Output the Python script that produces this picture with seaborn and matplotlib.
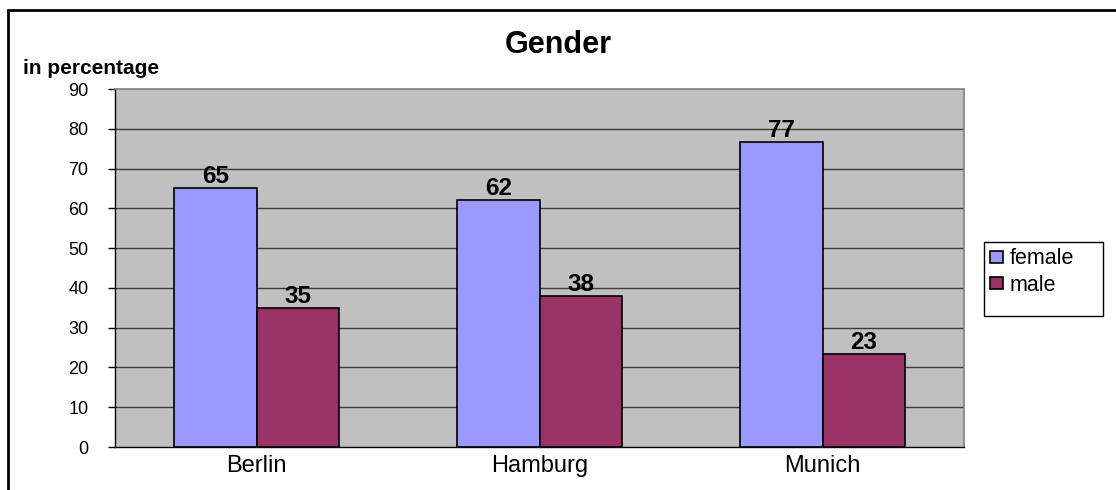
import matplotlib
matplotlib.use("Agg")
import matplotlib.pyplot as plt
import seaborn as sns
import pandas as pd
from matplotlib.patches import Rectangle

cities = ["Berlin", "Hamburg", "Munich"]
genders = ["female", "male"]
female = [65, 62, 76.7]
male = [35, 38, 23.3]
yticks = [0, 10, 20, 30, 40, 50, 60, 70, 80, 90]
colors = ["#9999FF", "#993366"]

df = pd.DataFrame({
    "city": cities * 2,
    "gender": ["female"] * 3 + ["male"] * 3,
    "value": female + male,
})

sns.set_theme(style="white")
plt.rcParams["font.family"] = ["Liberation Sans", "DejaVu Sans"]
plt.rcParams["text.color"] = "black"
plt.rcParams["xtick.color"] = "black"
plt.rcParams["ytick.color"] = "black"
plt.rcParams["axes.labelcolor"] = "black"

fig = plt.figure(figsize=(11.16, 4.9), dpi=100)
ax = fig.add_axes([115 / 1116, 1 - 447 / 490, (964 - 115) / 1116, (447 - 89) / 490])
ax.set_facecolor("#C0C0C0")

sns.barplot(data=df, x="city", y="value", hue="gender", hue_order=genders,
            palette=colors, width=0.58, edgecolor="black", linewidth=1.2,
            saturation=1, ax=ax, zorder=3, legend=True)

ax.set_ylim(0, 90)
ax.set_xlim(-0.5, 2.5)
ax.set_yticks(yticks)
ax.set_yticklabels([str(v) for v in yticks], fontsize=13)
for v in yticks[1:-1]:
    ax.axhline(v, color="#3a3a3a", lw=1, zorder=1)

ax.set_xlabel("")
ax.set_ylabel("")
ax.tick_params(axis="x", which="major", length=0, labelsize=17, pad=6)
ax.set_xticks([-0.5, 0.5, 1.5, 2.5], minor=True)
ax.tick_params(axis="x", which="minor", length=5, width=1, color="black", direction="out")
ax.tick_params(axis="y", length=5, width=1, color="black", direction="out", left=True, pad=14)

for side in ["top", "right"]:
    ax.spines[side].set_color("#808080")
    ax.spines[side].set_linewidth(1.2)
ax.spines["left"].set_color("black")
ax.spines["bottom"].set_color("black")
ax.spines["left"].set_linewidth(1)
ax.spines["bottom"].set_linewidth(1)

for cont, vals in zip(ax.containers, [female, male]):
    ax.bar_label(cont, labels=[f"{round(v)}" for v in vals], fontsize=17.5,
                 fontweight="bold", padding=0, color="black")

handles, labels = ax.get_legend_handles_labels()
ax.legend(handles, labels, loc="upper left",
          bbox_to_anchor=(986 / 1116, 1 - 244 / 490), bbox_transform=fig.transFigure,
          frameon=False, fontsize=15.5,
          handlelength=0.6, handleheight=0.5, handletextpad=0.3,
          borderpad=0.2, labelspacing=0.25, borderaxespad=0)
leg = ax.get_legend()
for t in leg.get_texts():
    t.set_color("black")

fig.patches.append(Rectangle((984 / 1116, 1 - 316 / 490), (1103 - 984) / 1116, (316 - 242) / 490,
                             transform=fig.transFigure, fill=False,
                             edgecolor="black", linewidth=1, figure=fig))

fig.text(0.5, 1 - 45 / 490, "Gender", ha="center", va="center",
         fontsize=22, fontweight="bold")
fig.text(23 / 1116, 1 - 68 / 490, "in percentage", ha="left", va="center",
         fontsize=15, fontweight="bold")

fig.patches.append(Rectangle((8 / 1116, -0.1), 1.2, 1 - 10 / 490 + 0.1,
                             transform=fig.transFigure, fill=False,
                             edgecolor="black", linewidth=2, figure=fig))

fig.savefig("out.png", dpi=100)
